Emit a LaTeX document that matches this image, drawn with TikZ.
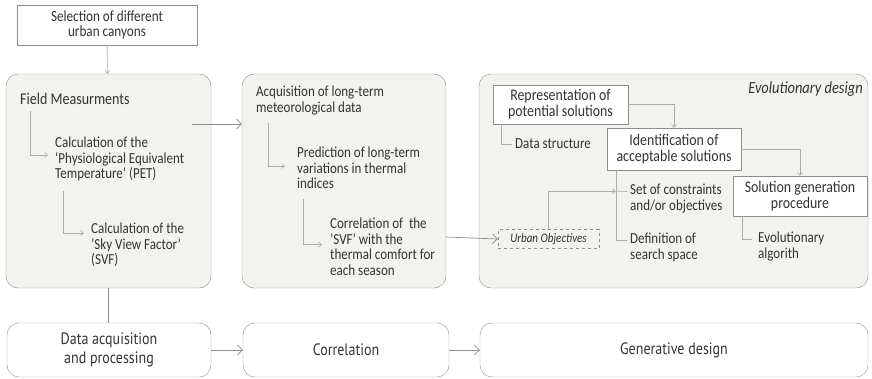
\documentclass[tikz,border=0pt]{standalone}
\usepackage{fontspec}
\setmainfont{Carlito}[FakeStretch=0.85]
\newfontfamily\myriad{PT Sans}[FakeStretch=0.85]
\usetikzlibrary{arrows.meta,calc}
\definecolor{panelfill}{HTML}{F2F2EE}
\definecolor{edge}{HTML}{8C8C8C}
\definecolor{lite}{HTML}{ABABAB}
\definecolor{ink}{HTML}{333333}

\begin{document}
\begin{tikzpicture}[x=1pt,y=-1pt,
    panel/.style={draw=edge,fill=panelfill,rounded corners=12pt,minimum height=214pt},
    stage/.style={draw=edge,rounded corners=12pt,minimum height=54pt,align=center,text=ink,font=\myriad\fontsize{16.5}{19}\selectfont},
    wbox/.style={draw=edge,fill=white,align=center,text=ink,inner sep=0pt,font=\fontsize{16.3}{16}\selectfont},
    txt/.style={inner sep=0pt,align=left,anchor=west,text=ink,font=\fontsize{15.3}{15.5}\selectfont},
    sub/.style={draw=lite,line width=0.6pt},
    link/.style={draw=edge,line width=0.7pt},
    tip/.style={-{Straight Barb[length=3pt,width=5pt]}},
    bigtip/.style={-{Straight Barb[length=5pt,width=10pt]}}]
    \useasboundingbox (0,0) rectangle (872,378);

    % top
    \node[wbox,minimum width=180pt,minimum height=40pt,font=\fontsize{15.5}{14.5}\selectfont](sel)at(107,25){Selection of different\\urban canyons};

    % panels
    \node[panel,minimum width=205pt](field)at(108.5,181){};
    \node[panel,minimum width=204pt](mid)at(344,181){};
    \node[panel,minimum width=389pt](evo)at(673.5,181){};

    % bottom stages
    \node[stage,minimum width=204pt](acq)at(109,350){Data acquisition\\and processing};
    \node[stage,minimum width=206pt](corr)at(346,350){Correlation};
    \node[stage,minimum width=388pt](gen)at(674,350){Generative design};

    % field measurements
    \node[txt,font=\fontsize{16.5}{16}\selectfont](fm)at(20,99){Field Measurments};
    \node[txt](pet)at(55,159){Calculation of the\\`Physiological Equivalent\\Temperature' (PET)};
    \node[txt](svf)at(91,245){Calculation of the\\'Sky View Factor'\\(SVF)};
    \draw[sub,tip]([xshift=10pt,yshift=-6pt]fm.south west)|-([xshift=-7pt,yshift=4pt]pet.west);
    \draw[sub,tip]([xshift=8pt,yshift=-10pt]pet.south west)|-([xshift=-7pt,yshift=12pt]svf.west);

    % correlation
    \node[txt](ltm)at(256,100.5){Acquisition of long-term\\meteorological data};
    \node[txt](pred)at(297,168){Prediction of long-term\\variations in thermal\\indices};
    \node[txt](cts)at(330,246.5){Correlation of~ the\\'SVF' with the\\thermal comfort for\\each season};
    \draw[sub,tip]([xshift=12pt,yshift=-8pt]ltm.south west)|-([xshift=-12pt,yshift=2pt]pred.west);
    \draw[sub,tip]([xshift=6pt,yshift=-10pt]pred.south west)|-([xshift=-8pt,yshift=2pt]cts.west);

    % evolutionary design
    \node[txt,anchor=east,font=\itshape\fontsize{17}{15}\selectfont](evt)at(863,89){Evolutionary design};
    \node[wbox,minimum width=135pt,minimum height=39pt](rep)at(560.5,104.5){Representation of\\potential solutions};
    \node[wbox,minimum width=134pt,minimum height=42pt](ident)at(674,149){Identification of\\acceptable solutions};
    \node[wbox,minimum width=134pt,minimum height=40pt](sol)at(800,196){Solution generation\\procedure};
    \node[txt](ds)at(515,144){Data structure};
    \node[txt](soc)at(630,198.5){Set of constraints\\and/or objectives};
    \node[txt](dss)at(630,247.5){Definition of\\search space};
    \node[txt](ea)at(758,246.5){Evolutionary\\algorith};
    \node[draw=edge,dashed,minimum width=101pt,minimum height=19pt,inner sep=0pt,text=ink,font=\itshape\fontsize{13}{13}\selectfont](urb)at(548.5,239){Urban Objectives};

    \draw[sub,tip](rep.east)-|(ident.north);
    \draw[sub,tip](ident.east)-|(sol.north);
    \draw[sub]([xshift=8pt]rep.south west)|-([xshift=-3pt]ds.west);
    \draw[sub]([xshift=9pt]ident.south west)|-([xshift=-3pt,yshift=7pt]dss.west);
    \draw[sub]([xshift=9pt]sol.south west)|-([xshift=-6pt,yshift=7pt]ea.west);
    \coordinate(jn)at($(ident.south west)+(9pt,-21pt)$);
    \draw[sub,tip](urb.north)|-(jn);
    \draw[sub](jn)--([xshift=-3pt,yshift=7pt]soc.west);

    % main flow
    \draw[sub,tip](sel)--(field);
    \draw[link,bigtip]([xshift=-19pt,yshift=57pt]field.east)--([yshift=57pt]mid.west);
    \draw[link,bigtip]([yshift=-56pt]mid.east)--(urb.west);
    \draw[link](field.south)--(field.south|-acq.north);
    \draw[link]($(mid.south)+(8pt,0)$)--($(mid.south)+(8pt,0)$|-corr.north);
    \draw[link]($(evo.south)+(10pt,0)$)--($(evo.south)+(10pt,0)$|-gen.north);
    \draw[link,bigtip](acq)--(corr);
    \draw[link,bigtip](corr)--(gen);
\end{tikzpicture}
\end{document}
